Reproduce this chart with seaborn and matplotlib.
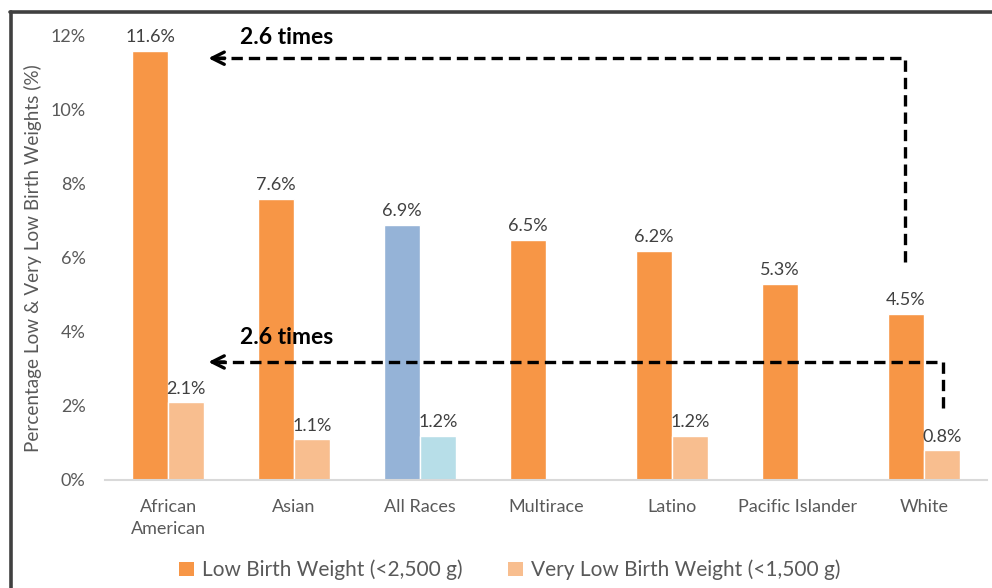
import matplotlib
matplotlib.use("Agg")
import matplotlib.pyplot as plt
import seaborn as sns
import pandas as pd
from matplotlib.lines import Line2D
from matplotlib.patches import Patch

categories = ["African\nAmerican", "Asian", "All Races", "Multirace", "Latino", "Pacific Islander", "White"]
series_names = ["Low Birth Weight (<2,500 g)", "Very Low Birth Weight (<1,500 g)"]
lbw = [11.6, 7.6, 6.9, 6.5, 6.2, 5.3, 4.5]
vlbw = [2.1, 1.1, 1.2, None, 1.2, None, 0.8]
yticks = [0, 2, 4, 6, 8, 10, 12]
annot_text = "2.6 times"

ORANGE = "#F79646"
LORANGE = "#F8BE8F"
BLUE = "#95B3D7"
LBLUE = "#B7DEE8"
TXT = "#595959"

sns.set_theme(style="white")
plt.rcParams["font.family"] = ["Lato", "DejaVu Sans"]

rows = []
for c, a, b in zip(categories, lbw, vlbw):
    rows.append((c, series_names[0], a))
    if b is not None:
        rows.append((c, series_names[1], b))
df = pd.DataFrame(rows, columns=["cat", "series", "val"])

fig = plt.figure(figsize=(9.92, 5.88), dpi=100)
ax = fig.add_axes([105/992, 1-480/588, 882/992, 444/588])

sns.barplot(data=df, x="cat", y="val", hue="series", order=categories,
            hue_order=series_names, palette=[ORANGE, LORANGE], width=0.572,
            saturation=1, ax=ax, legend=False, errorbar=None)

ax.set_xlim(-0.5, len(categories) - 0.5)
ax.set_ylim(0, 12)
ax.set_yticks(yticks)
ax.set_yticklabels([f"{t}%" for t in yticks])
ax.tick_params(axis="both", length=0, labelsize=13, labelcolor=TXT)
ax.tick_params(axis="x", pad=14)
ax.tick_params(axis="y", pad=14)
for lab in ax.get_xticklabels():
    lab.set_linespacing(1.45)
for s in ["top", "right", "left"]:
    ax.spines[s].set_visible(False)
ax.spines["bottom"].set_color("#D9D9D9")
ax.spines["bottom"].set_linewidth(1.5)
ax.set_xlabel("")
ax.set_ylabel("Percentage Low & Very Low Birth Weights (%)", fontsize=13.6, color=TXT)
ax.yaxis.set_label_coords(-63/882, 0.5)

all_idx = categories.index("All Races")
for ci, cont in enumerate(ax.containers):
    for bar in cont:
        cx = bar.get_x() + bar.get_width() / 2
        if round(cx) == all_idx:
            bar.set_facecolor(BLUE if ci == 0 else LBLUE)
    ax.bar_label(cont, labels=[f"{b.get_height():.1f}%" for b in cont],
                 padding=4, fontsize=13, color="#404040")

# dashed comparison arrows
dash = dict(color="black", lw=2.4, linestyle=(0, (3.4, 1.8)), solid_capstyle="butt", clip_on=False)
ax.plot([5.85, 5.85, 0.40], [5.9, 11.4, 11.4], **dash)
ax.plot([6.15, 6.15, 0.40], [1.95, 3.19, 3.19], **dash)
for yy in [11.4, 3.19]:
    ax.annotate("", xy=(0.32, yy), xytext=(0.45, yy),
                arrowprops=dict(arrowstyle="->", lw=2.4, color="black", mutation_scale=22,
                                shrinkA=0, shrinkB=0), annotation_clip=False)
ax.text(0.94, 11.97, annot_text, fontsize=16.5, fontweight="bold", color="black", ha="center", va="center")
ax.text(0.94, 3.86, annot_text, fontsize=16.5, fontweight="bold", color="black", ha="center", va="center")

handles = [Patch(facecolor=ORANGE, edgecolor="none"), Patch(facecolor=LORANGE, edgecolor="none")]
fig.legend(handles, series_names, loc="center", bbox_to_anchor=(510/992, 1-570/588), ncol=2,
           frameon=False, fontsize=15, labelcolor=TXT, handlelength=0.7, handleheight=0.7,
           handletextpad=0.4, columnspacing=2.2)

# outer frame
fig.add_artist(Line2D([10.5/992, 10.5/992], [0, 1-11.5/588], transform=fig.transFigure, color="#404040", lw=2.6))
fig.add_artist(Line2D([9.5/992, 1], [1-11.5/588, 1-11.5/588], transform=fig.transFigure, color="#404040", lw=2.6))

fig.savefig("out.png", dpi=100, facecolor="white")
